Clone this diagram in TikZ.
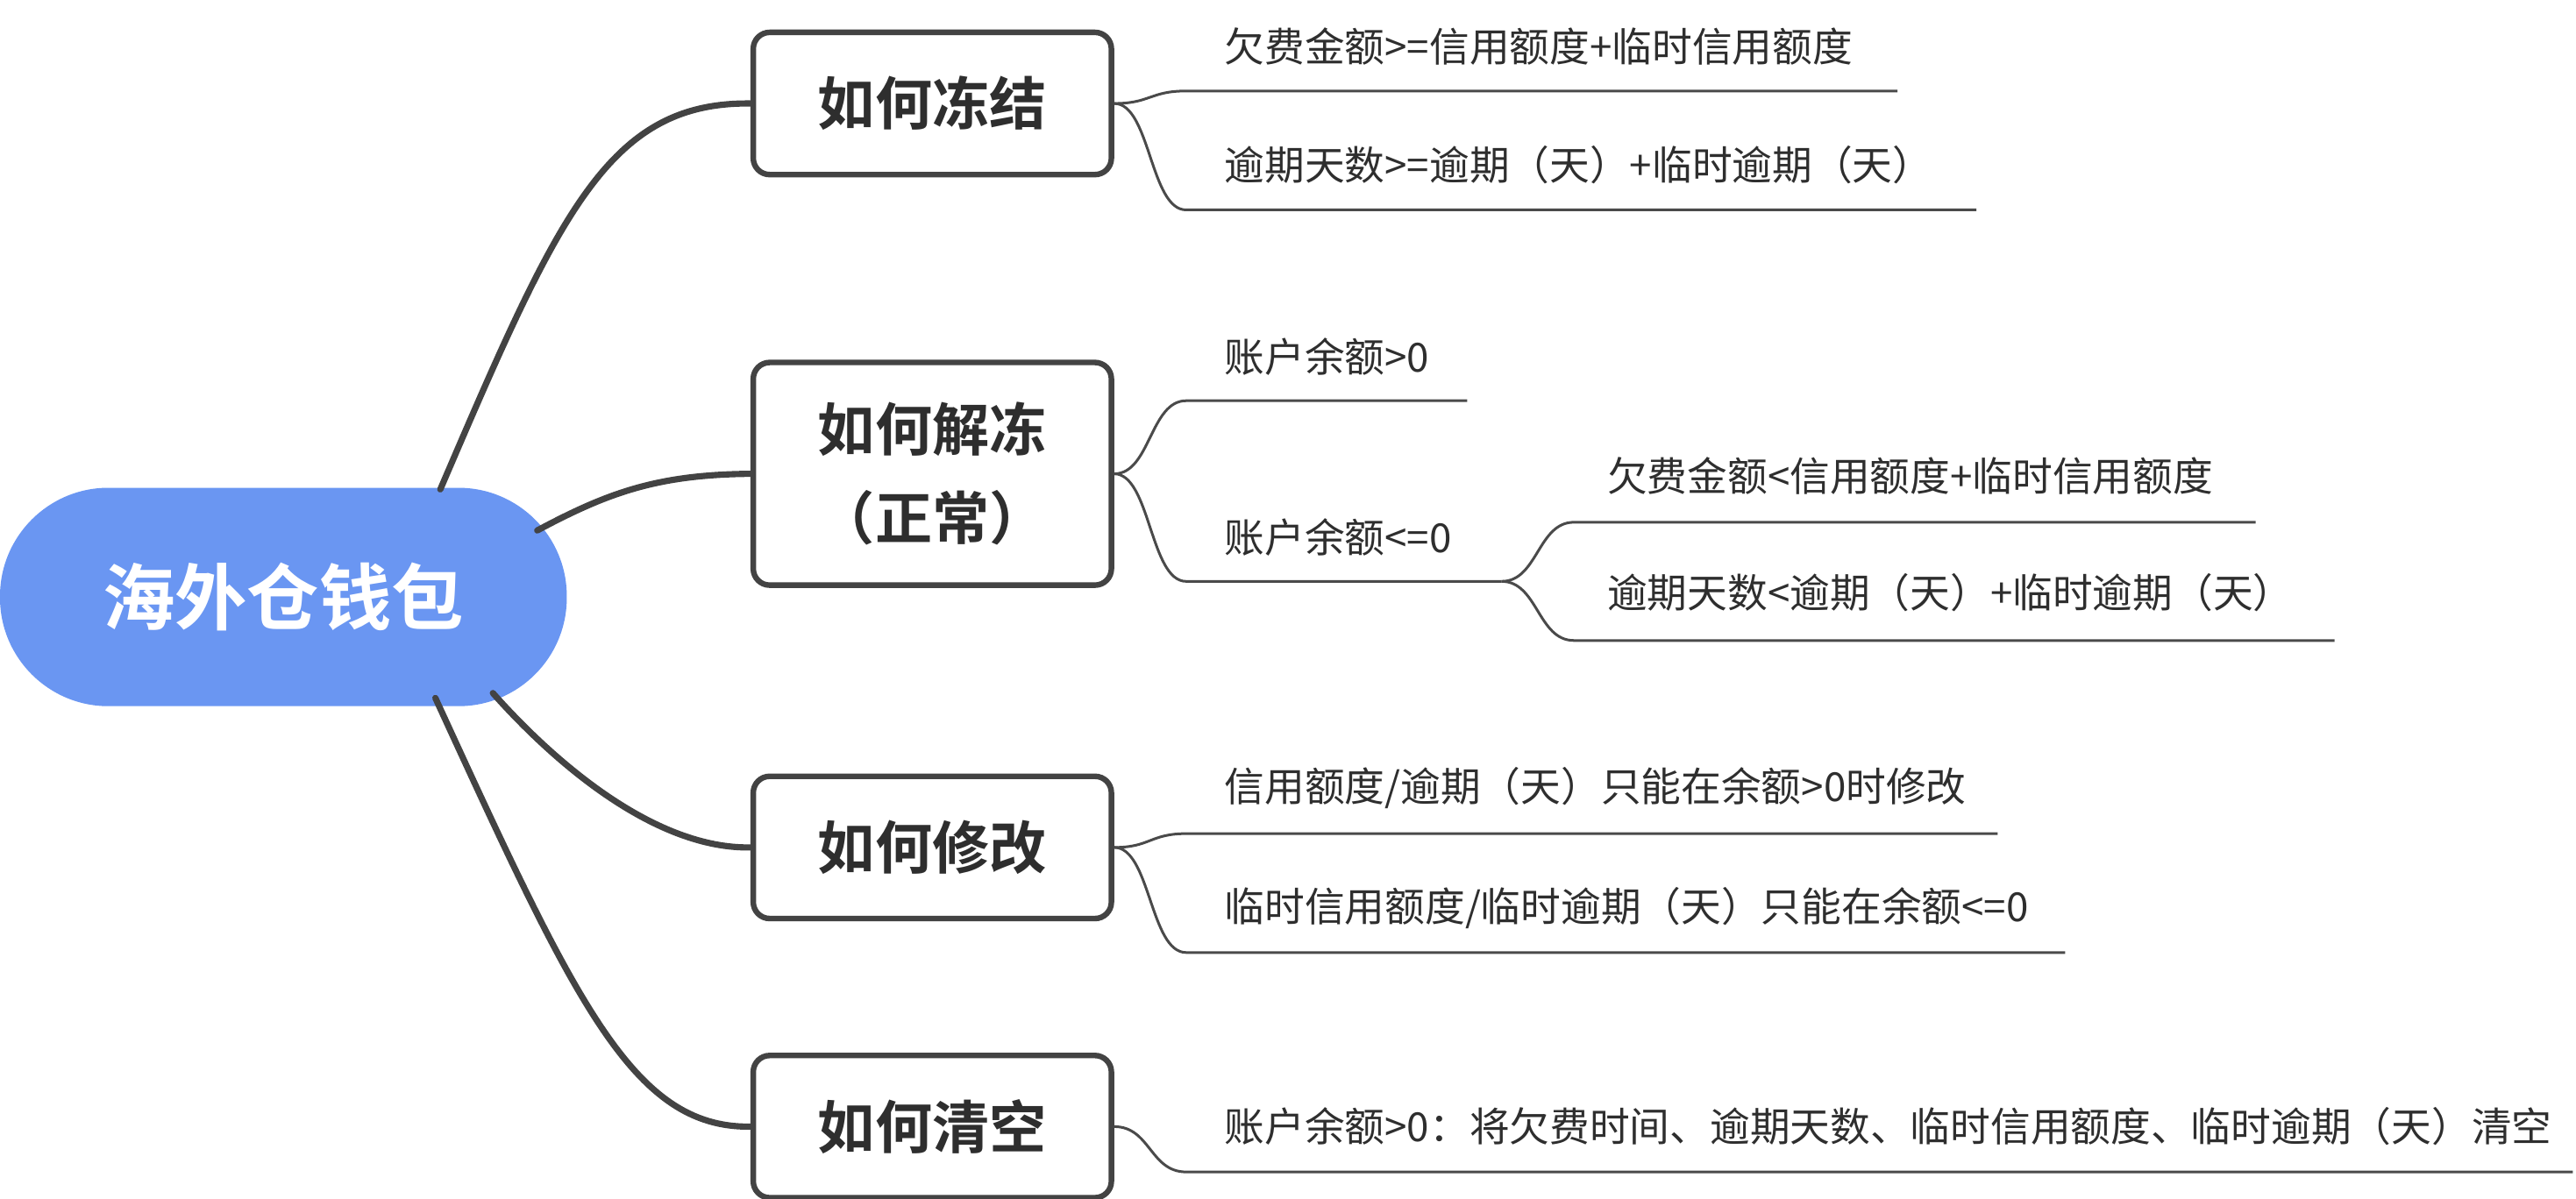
\documentclass[tikz,border=0pt]{standalone}
\usepackage{fontspec}
\setmainfont{Noto Sans CJK SC}[BoldFont={Noto Sans CJK SC Bold}]
\definecolor{mainblue}{HTML}{6A96F2}
\definecolor{linegray}{HTML}{434343}
\definecolor{leafgray}{HTML}{4A4A4A}
\definecolor{txtgray}{HTML}{2E2E2E}
\begin{document}
\begin{tikzpicture}[x=0.5pt,y=-0.5pt,
  rootbox/.style={fill=mainblue, rounded corners=33pt, minimum width=172.5pt, minimum height=66.5pt, text=white, font=\bfseries\fontsize{22}{26}\selectfont, inner sep=0pt},
  topicbox/.style={draw=linegray, line width=1.7pt, fill=white, rounded corners=5pt, minimum width=109pt, text=txtgray, font=\bfseries\fontsize{17.4}{27}\selectfont, align=center, inner sep=0pt},
  leaftext/.style={anchor=west, text=txtgray, font=\fontsize{12.2}{14}\selectfont, inner sep=0pt},
  mainlink/.style={draw=linegray, line width=1.9pt, line cap=round},
  leaflink/.style={draw=leafgray, line width=0.8pt},
]
\useasboundingbox (0,0) rectangle (1568,730);

% root
\node[rootbox] (root) at (172.5,363.5) {海外仓钱包};

% topics
\node[topicbox, minimum height=43.3pt] (t1) at (567.5,63) {如何冻结};
\node[topicbox, minimum height=67.8pt] (t2) at (567.5,288.5) {如何解冻\\（正常）};
\node[topicbox, minimum height=43.3pt] (t3) at (567.5,516) {如何修改};
\node[topicbox, minimum height=43.3pt] (t4) at (567.5,686) {如何清空};

% main connectors
\coordinate (r1) at (268,298);
\coordinate (r2) at (327,323);
\coordinate (r3) at (300,422);
\coordinate (r4) at (265,425);
\draw[mainlink] (r1) .. controls (340,130) and (370,62) .. (t1.west);
\draw[mainlink] (r2) .. controls (370,300) and (400,289) .. (t2.west);
\draw[mainlink] (r3) .. controls (340,467) and (400,517) .. (t3.west);
\draw[mainlink] (r4) .. controls (350,610) and (385,687) .. (t4.west);

% leaf texts
\node[leaftext] (a1) at (745,28.5) {欠费金额>=信用额度+临时信用额度};
\node[leaftext] (a2) at (745,100.5) {逾期天数>=逾期（天）+临时逾期（天）};
\node[leaftext] (b1) at (745,217) {账户余额>0};
\node[leaftext] (b2) at (745,327) {账户余额<=0};
\node[leaftext] (c1) at (978,290) {欠费金额<信用额度+临时信用额度};
\node[leaftext] (c2) at (978,361) {逾期天数<逾期（天）+临时逾期（天）};
\node[leaftext] (d1) at (745,480) {信用额度/逾期（天）只能在余额>0时修改};
\node[leaftext] (d2) at (745,553) {临时信用额度/临时逾期（天）只能在余额<=0};
\node[leaftext] (e1) at (745,686) {账户余额>0：将欠费时间、逾期天数、临时信用额度、临时逾期（天）清空};

% underline coordinates
\coordinate (a1s) at (722,55.4);  \coordinate (a1e) at (1155,55.4);
\coordinate (a2s) at (722,127.8); \coordinate (a2e) at (1203,127.8);
\coordinate (b1s) at (722,244);   \coordinate (b1e) at (893,244);
\coordinate (b2s) at (722,354);   \coordinate (b2e) at (914,354);
\coordinate (c1s) at (958,318);   \coordinate (c1e) at (1373,318);
\coordinate (c2s) at (958,390);   \coordinate (c2e) at (1421,390);
\coordinate (d1s) at (722,507.6); \coordinate (d1e) at (1216,507.6);
\coordinate (d2s) at (722,580);   \coordinate (d2e) at (1257,580);
\coordinate (e1s) at (722,713.6); \coordinate (e1e) at (1566,713.6);

% leaf connectors
\draw[leaflink] (t1.east) .. controls +(22,0) and +(-22,0) .. (a1s) -- (a1e);
\draw[leaflink] (t1.east) .. controls +(22,0) and +(-22,0) .. (a2s) -- (a2e);
\draw[leaflink] (t2.east) .. controls +(22,0) and +(-22,0) .. (b1s) -- (b1e);
\draw[leaflink] (t2.east) .. controls +(22,0) and +(-22,0) .. (b2s) -- (b2e);
\draw[leaflink] (b2e) .. controls +(22,0) and +(-22,0) .. (c1s) -- (c1e);
\draw[leaflink] (b2e) .. controls +(22,0) and +(-22,0) .. (c2s) -- (c2e);
\draw[leaflink] (t3.east) .. controls +(22,0) and +(-22,0) .. (d1s) -- (d1e);
\draw[leaflink] (t3.east) .. controls +(22,0) and +(-22,0) .. (d2s) -- (d2e);
\draw[leaflink] (t4.east) .. controls +(22,0) and +(-22,0) .. (e1s) -- (e1e);
\end{tikzpicture}
\end{document}
